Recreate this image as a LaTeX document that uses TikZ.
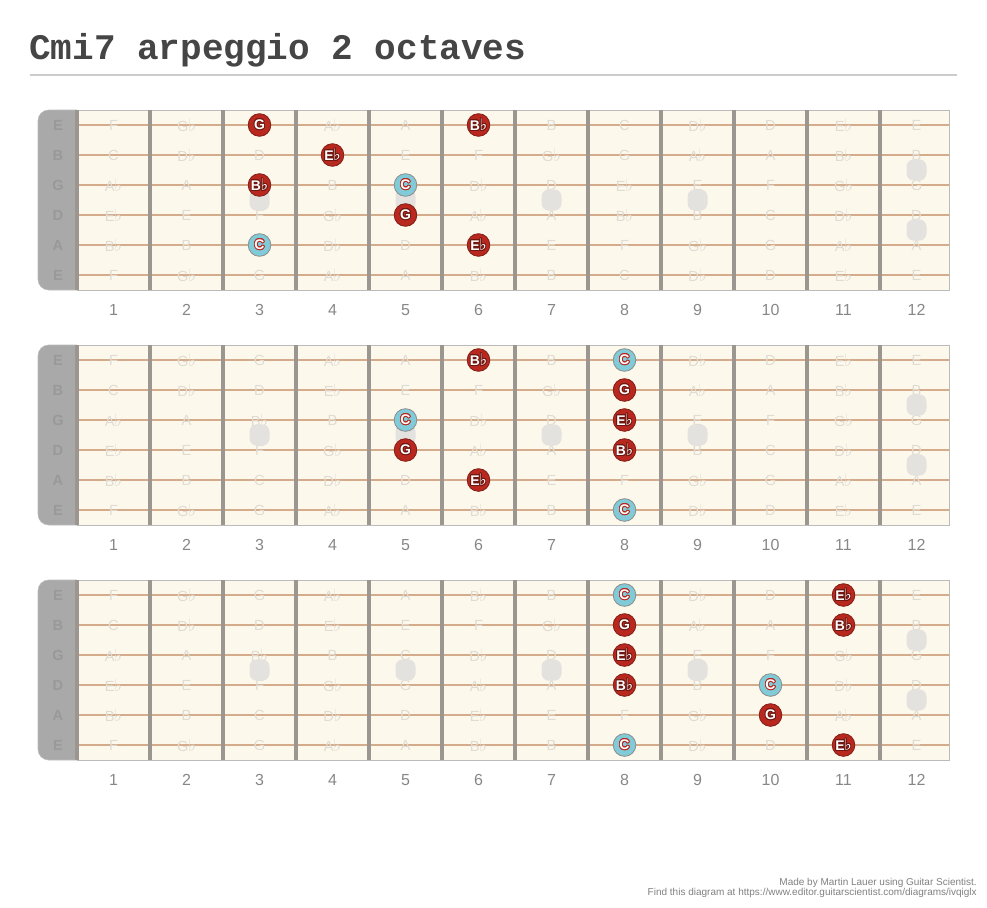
\documentclass[tikz,border=0pt]{standalone}
\usepackage{fontspec}
\setmainfont{Liberation Sans}
\newfontfamily\titlefont{Liberation Mono}
\newfontfamily\symfont{DejaVu Sans}
\usepackage[copies]{contour}
\contourlength{0.6pt}
\definecolor{boardcream}{HTML}{FDF8EC}
\definecolor{nutgray}{HTML}{A9A9A9}
\definecolor{stringtan}{HTML}{D4AC8C}
\definecolor{fretgray}{HTML}{9B9790}
\definecolor{edgegray}{HTML}{BBBBBB}
\definecolor{fadetext}{HTML}{E0DCD4}
\definecolor{markgray}{HTML}{E4E2DE}
\definecolor{notered}{HTML}{B8281E}
\definecolor{rootblue}{HTML}{80CBD7}
\newcommand{\fl}{{\symfont\kern-0.03em\scalebox{1.15}{♭}}}
\newcommand{\notename}[1]{\ifcase#1 C\or D\fl\or D\or E\fl\or E\or F\or G\fl\or G\or A\fl\or A\or B\fl\or B\fi}
\newcommand{\hn}[1]{\contour{notered!60!black}{#1}}
\newcommand{\rn}[1]{\contour{notered}{#1}}
\begin{document}
\begin{tikzpicture}
        [
            x=0.75pt, y=-0.75pt,
            fretwire/.style={line width=2.3pt, draw=fretgray},
            guitarstring/.style={line width=1.5pt, draw=stringtan},
            fadelabel/.style={text=fadetext, font=\fontsize{11}{11}\selectfont, inner sep=0pt},
            stringname/.style={text=black!40, font=\bfseries\fontsize{11}{11}\selectfont, inner sep=0pt},
            fretnum/.style={text=black!47, font=\fontsize{12}{12}\selectfont},
            inlay/.style={fill=markgray, draw=none, rounded corners=5.5pt, minimum width=15pt, minimum height=16pt, inner sep=0pt},
            note/.style={circle, fill=notered, draw=notered!70!black, line width=0.6pt, minimum size=17pt, inner sep=0pt, text=white, font=\bfseries\fontsize{10.5}{10.5}\selectfont},
            root/.style={note, fill=rootblue, draw=black!45}
        ]
        \useasboundingbox (0,0) rectangle (987,907);
        % title
        \node[anchor=base west, inner sep=0pt, text=black!73, font=\titlefont\bfseries\fontsize{27}{27}\selectfont] (title) at (29,59) {Cmi7 arpeggio 2 octaves};
        \draw[line width=1.5pt, draw=black!20] (30,75) -- (957,75);
        % fretboards
        \foreach \ty [count=\b] in {110,345,580} {
            \fill[nutgray, rounded corners=8pt] (38,\ty) rectangle (90,\ty+180);
            \fill[boardcream] (77,\ty) rectangle (949,\ty+180);
            \draw[edgegray, rounded corners=8pt] (77,\ty) -- (38,\ty) -- (38,\ty+180) -- (77,\ty+180);
            \draw[edgegray] (77,\ty) rectangle (949,\ty+180);
            \foreach \s/\nm/\op in {1/E/4,2/B/11,3/G/7,4/D/2,5/A/9,6/E/4} {
                \pgfmathsetmacro\sy{\ty+15+30*(\s-1)}
                \draw[guitarstring] (77,\sy) -- (949,\sy);
                \node[stringname] (s\b-\s) at (58,\sy) {\nm};
                \foreach \f in {1,...,12} {
                    \pgfmathtruncatemacro\idx{mod(\op+\f,12)}
                    \coordinate (p\b-\s-\f) at (40.5+73*\f,\sy);
                    \node[fadelabel] (l\b-\s-\f) at (p\b-\s-\f) {\notename{\idx}};
                }
            }
            \foreach \k in {0,...,11}
                \draw[fretwire] (77+73*\k,\ty) -- (77+73*\k,\ty+180);
            \foreach \f in {3,5,7,9}
                \node[inlay] (m\b-\f) at (40.5+73*\f,\ty+90) {};
            \node[inlay] (m\b-12a) at (916.5,\ty+60) {};
            \node[inlay] (m\b-12b) at (916.5,\ty+120) {};
            \foreach \f in {1,...,12}
                \node[fretnum] (f\b-\f) at (40.5+73*\f,\ty+200) {\f};
        }
        % board 1
        \node[note] (a1) at (p1-1-3) {\hn{G}};
        \node[note] (a2) at (p1-1-6) {\hn{B\fl}};
        \node[note] (a3) at (p1-2-4) {\hn{E\fl}};
        \node[note] (a4) at (p1-3-3) {\hn{B\fl}};
        \node[root] (a5) at (p1-3-5) {\rn{C}};
        \node[note] (a6) at (p1-4-5) {\hn{G}};
        \node[root] (a7) at (p1-5-3) {\rn{C}};
        \node[note] (a8) at (p1-5-6) {\hn{E\fl}};
        % board 2
        \node[note] (b1) at (p2-1-6) {\hn{B\fl}};
        \node[root] (b2) at (p2-1-8) {\rn{C}};
        \node[note] (b3) at (p2-2-8) {\hn{G}};
        \node[root] (b4) at (p2-3-5) {\rn{C}};
        \node[note] (b5) at (p2-3-8) {\hn{E\fl}};
        \node[note] (b6) at (p2-4-5) {\hn{G}};
        \node[note] (b7) at (p2-4-8) {\hn{B\fl}};
        \node[note] (b8) at (p2-5-6) {\hn{E\fl}};
        \node[root] (b9) at (p2-6-8) {\rn{C}};
        % board 3
        \node[root] (c1) at (p3-1-8) {\rn{C}};
        \node[note] (c2) at (p3-1-11) {\hn{E\fl}};
        \node[note] (c3) at (p3-2-8) {\hn{G}};
        \node[note] (c4) at (p3-2-11) {\hn{B\fl}};
        \node[note] (c5) at (p3-3-8) {\hn{E\fl}};
        \node[note] (c6) at (p3-4-8) {\hn{B\fl}};
        \node[root] (c7) at (p3-4-10) {\rn{C}};
        \node[note] (c8) at (p3-5-10) {\hn{G}};
        \node[root] (c9) at (p3-6-8) {\rn{C}};
        \node[note] (c10) at (p3-6-11) {\hn{E\fl}};
        % credits
        \node[anchor=base east, inner sep=0pt, text=black!50, font=\fontsize{7.5}{7.5}\selectfont] (made) at (977,885) {Made by Martin Lauer using Guitar Scientist.};
        \node[anchor=base east, inner sep=0pt, text=black!50, font=\fontsize{7.5}{7.5}\selectfont] (link) at (977,895) {Find this diagram at https://www.editor.guitarscientist.com/diagrams/ivqiglx};
    \end{tikzpicture}
\end{document}
